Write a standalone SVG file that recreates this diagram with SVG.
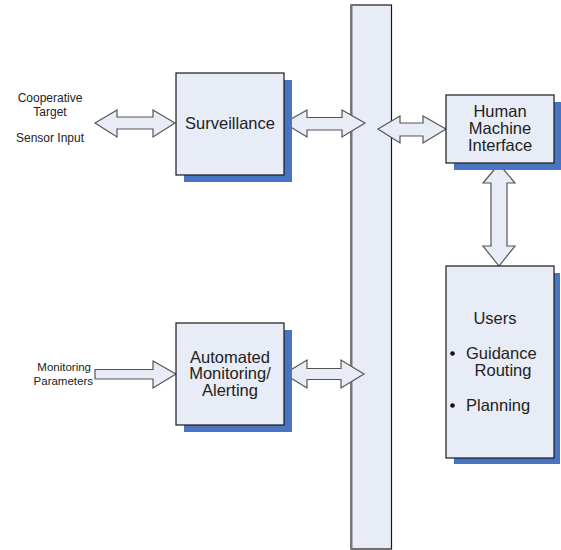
<svg xmlns="http://www.w3.org/2000/svg" width="561" height="550" viewBox="0 0 561 550">
<style>
.box{fill:#E8ECF6;stroke:#1a1a1a;stroke-width:1.2}
.shadow{fill:#4874C2}
.arr{fill:#E8ECF6;stroke:#555;stroke-width:1.2;stroke-linejoin:miter}
.t{font-family:"Liberation Sans",Arial,sans-serif;fill:#222}
.big{font-size:16.5px}
.sm{font-size:12px}
.xs{font-size:11.5px}
</style>
<rect width="561" height="550" fill="#fff"/>
<g id="bus">
<rect x="351" y="5" width="40.5" height="544" fill="#E8ECF6" stroke="#1a1a1a" stroke-width="1.2"/>
<line x1="351.5" y1="5" x2="351.5" y2="549" stroke="#777" stroke-width="2"/>
</g>
<g id="connectors">
<polygon class="arr" points="95,123 117,110 117,117 153,117 153,110 175,123 153,137 153,129 117,129 117,137"/>
<polygon class="arr" points="284,123 307,110 307,117.5 342,117.5 342,110 365,123 342,137 342,130 307,130 307,137"/>
<polygon class="arr" points="378,129 400,116 400,123 423,123 423,116 446,129 423,143 423,136 400,136 400,143"/>
<polygon class="arr" points="499,164 515,183 507,183 507,246 515,246 499,266 483,246 491,246 491,183 483,183"/>
<polygon class="arr" points="95,369.5 153,369.5 153,361 176,374 153,388 153,379 95,379"/>
<polygon class="arr" points="284,374 307,360 307,368.5 341,368.5 341,360 364,374 341,388 341,379.5 307,379.5 307,388"/>
</g>
<g id="inputs">
<text class="t sm" x="50" y="101.5" text-anchor="middle">Cooperative</text>
<text class="t sm" x="50" y="115.5" text-anchor="middle">Target</text>
<text class="t sm" x="50" y="141.5" text-anchor="middle">Sensor Input</text>
<text class="t xs" x="91" y="371" text-anchor="end">Monitoring</text>
<text class="t xs" x="93" y="385" text-anchor="end">Parameters</text>
</g>
<g id="surveillance">
<rect class="shadow" x="184" y="80" width="108" height="102"/>
<rect class="box" x="176" y="73" width="108" height="102"/>
<text class="t big" x="230" y="129" text-anchor="middle">Surveillance</text>
</g>
<g id="hmi">
<rect class="shadow" x="454" y="102" width="107" height="68"/>
<rect class="box" x="446" y="95" width="108" height="68"/>
<text class="t big" x="500" y="117" text-anchor="middle">Human</text>
<text class="t big" x="500" y="134" text-anchor="middle">Machine</text>
<text class="t big" x="500" y="151" text-anchor="middle">Interface</text>
</g>
<g id="automated">
<rect class="shadow" x="184" y="330" width="108" height="102"/>
<rect class="box" x="176" y="323" width="108" height="102"/>
<text class="t big" x="230" y="362.5" text-anchor="middle">Automated</text>
<text class="t big" x="230" y="379" text-anchor="middle">Monitoring/</text>
<text class="t big" x="230" y="396" text-anchor="middle">Alerting</text>
</g>
<g id="users">
<rect class="shadow" x="454" y="273" width="106" height="191"/>
<rect class="box" x="446" y="266" width="108" height="192"/>
<text class="t big" x="495" y="324" text-anchor="middle">Users</text>
<circle cx="452.5" cy="353.5" r="2.3" fill="#111"/>
<text class="t big" x="466" y="359">Guidance</text>
<text class="t big" x="503" y="376" text-anchor="middle">Routing</text>
<circle cx="452.5" cy="405.5" r="2.3" fill="#111"/>
<text class="t big" x="466" y="410.5">Planning</text>
</g>
</svg>
